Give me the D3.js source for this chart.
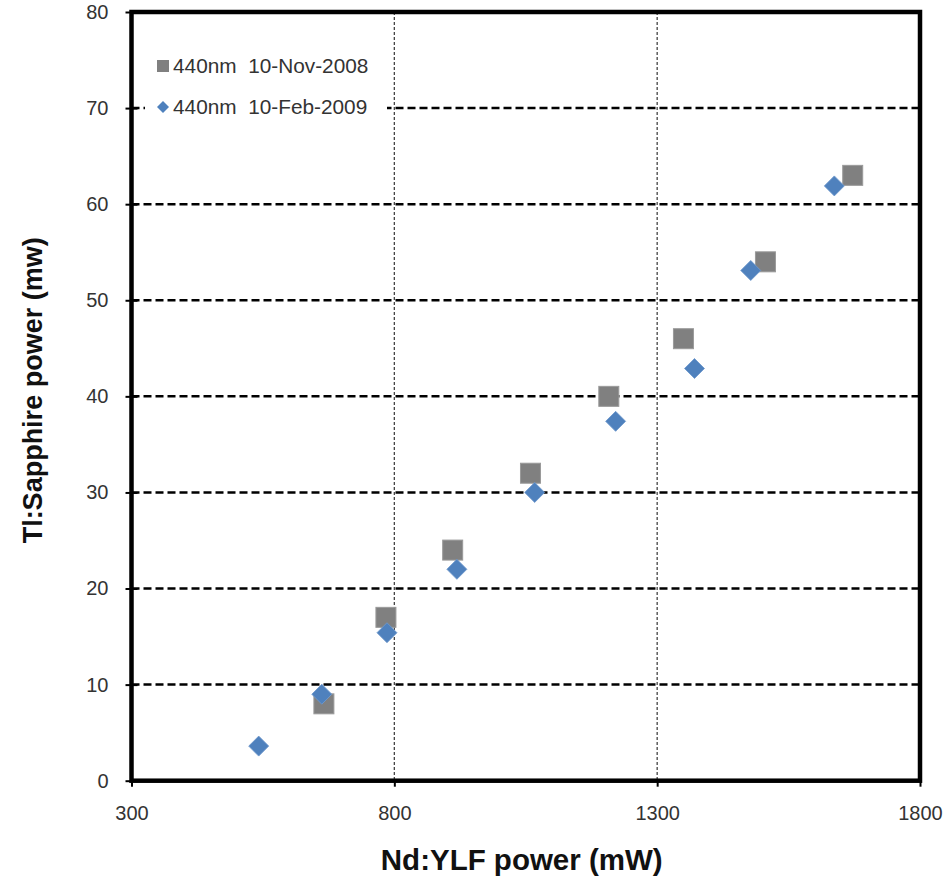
<!DOCTYPE html>
<html><head><meta charset="utf-8">
<script src="https://cdn.jsdelivr.net/npm/d3@7"></script>
<style>body{margin:0;background:#fff}</style>
</head><body><svg id="c" width="948" height="879"></svg>
<script>
const xTicks=[300,800,1300,1800];
const yTicks=[0,10,20,30,40,50,60,70,80];
const nov2008X=[666,784,911,1059,1208,1350,1506,1672];
const nov2008Y=[8,17,24,32,40,46,54,63];
const feb2009X=[542,662,786,919,1067,1221,1371,1478,1637];
const feb2009Y=[3.6,9,15.4,22,30,37.4,42.9,53.1,61.9];
const seriesNames=["440nm  10-Nov-2008","440nm  10-Feb-2009"];
const xTitle="Nd:YLF power (mW)";
const yTitle="Tl:Sapphire power (mw)";

const L=131.5,R=920,T=12,B=780.7;
const svg=d3.select("#c");
const font="Liberation Sans, Arial, sans-serif";
const x=d3.scaleLinear().domain([300,1800]).range([L,R]);
const y=d3.scaleLinear().domain([0,80]).range([B,T]);

// vertical grid (dotted)
svg.append("g").selectAll("line").data(xTicks.slice(1,-1)).join("line")
  .attr("x1",d=>x(d)).attr("x2",d=>x(d)).attr("y1",T).attr("y2",B)
  .attr("stroke","#444").attr("stroke-width",1.3).attr("stroke-dasharray","3,2");
// horizontal grid (dashed)
svg.append("g").selectAll("line").data(yTicks.slice(1,-1)).join("line")
  .attr("x1",L).attr("x2",R).attr("y1",d=>y(d)).attr("y2",d=>y(d))
  .attr("stroke","#000").attr("stroke-width",2.5).attr("stroke-dasharray","8,4");

// legend background
svg.append("rect").attr("x",145).attr("y",40).attr("width",242).attr("height",90).attr("fill","#fff");

// axes
const fmt=d3.format("d");
const yAx=svg.append("g").attr("transform",`translate(${L},0)`)
  .call(d3.axisLeft(y).tickValues(yTicks).tickFormat(fmt).tickSize(6).tickPadding(17));
const yAx2=svg.append("g").attr("transform",`translate(${L},0)`)
  .call(d3.axisRight(y).tickValues(yTicks).tickSize(6).tickFormat(""));
const xAx=svg.append("g").attr("transform",`translate(0,${B})`)
  .call(d3.axisBottom(x).tickValues(xTicks).tickFormat(fmt).tickSize(6).tickPadding(19));
[yAx,yAx2,xAx].forEach(g=>{
  g.select(".domain").remove();
  g.selectAll(".tick line").attr("stroke","#000").attr("stroke-width",2);
  g.selectAll("text").attr("font-family",font).attr("font-size",20).attr("fill","#333");
});

// frame
svg.append("rect").attr("x",L).attr("y",T).attr("width",R-L).attr("height",B-T)
  .attr("fill","none").attr("stroke","#000").attr("stroke-width",4.5);

// series
const nov=nov2008X.map((v,i)=>({x:v,y:nov2008Y[i]}));
const feb=feb2009X.map((v,i)=>({x:v,y:feb2009Y[i]}));
svg.append("g").selectAll("rect").data(nov).join("rect")
  .attr("x",d=>x(d.x)-10).attr("y",d=>y(d.y)-10).attr("width",20).attr("height",20)
  .attr("fill","#808080").attr("stroke","#9a9a9a").attr("stroke-width",1);
const dsym=d3.symbol().type(d3.symbolSquare).size(200);
svg.append("g").selectAll("path").data(feb).join("path")
  .attr("d",dsym).attr("transform",d=>`translate(${x(d.x)},${y(d.y)}) rotate(45)`)
  .attr("fill","#4F81BD").attr("stroke","#6f98cc").attr("stroke-width",0.8);

// legend
svg.append("rect").attr("x",157).attr("y",60).attr("width",12).attr("height",12).attr("fill","#808080");
svg.append("path").attr("d",d3.symbol().type(d3.symbolSquare).size(72)).attr("transform","translate(163,107) rotate(45)").attr("fill","#4F81BD");
svg.append("g").selectAll("text").data(seriesNames).join("text")
  .attr("x",173).attr("y",(d,i)=>73+i*41).text(d=>d)
  .style("white-space","pre").attr("font-family",font).attr("font-size",20.8).attr("fill","#333");

// titles
svg.append("text").attr("x",(L+R)/2-4).attr("y",870).attr("text-anchor","middle")
  .attr("font-family",font).attr("font-weight","bold").attr("font-size",29.5).attr("fill","#111").text(xTitle);
svg.append("text").attr("transform",`translate(42,${(T+B)/2-6}) rotate(-90)`).attr("text-anchor","middle")
  .attr("font-family",font).attr("font-weight","bold").attr("font-size",27).attr("fill","#111").text(yTitle);
</script></body></html>
